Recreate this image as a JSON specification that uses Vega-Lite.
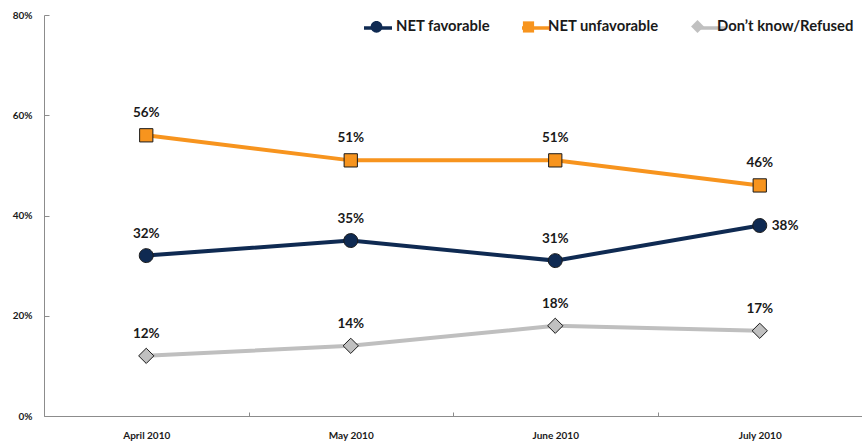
{
  "$schema": "https://vega.github.io/schema/vega-lite/v6.json",
  "width": 818,
  "height": 401,
  "autosize": {"type": "none"},
  "padding": {"left": 44, "top": 15, "right": 0, "bottom": 27},
  "background": "white",
  "config": {
    "font": "Lato",
    "view": {"stroke": null},
    "axis": {"grid": false, "domainColor": "#8c8c8c", "tickColor": "#8c8c8c", "labelFont": "Lato", "labelFontWeight": "bold", "labelFontSize": 10, "labelColor": "#1a1a1a", "title": null}
  },
  "data": {
    "values": [
      {"month": "April 2010", "series": "NET favorable", "value": 0.32},
      {"month": "May 2010", "series": "NET favorable", "value": 0.35},
      {"month": "June 2010", "series": "NET favorable", "value": 0.31},
      {"month": "July 2010", "series": "NET favorable", "value": 0.38},
      {"month": "April 2010", "series": "NET unfavorable", "value": 0.56},
      {"month": "May 2010", "series": "NET unfavorable", "value": 0.51},
      {"month": "June 2010", "series": "NET unfavorable", "value": 0.51},
      {"month": "July 2010", "series": "NET unfavorable", "value": 0.46},
      {"month": "April 2010", "series": "Don’t know/Refused", "value": 0.12},
      {"month": "May 2010", "series": "Don’t know/Refused", "value": 0.14},
      {"month": "June 2010", "series": "Don’t know/Refused", "value": 0.18},
      {"month": "July 2010", "series": "Don’t know/Refused", "value": 0.17}
    ]
  },
  "encoding": {
    "x": {
      "field": "month", "type": "nominal", "sort": ["April 2010", "May 2010", "June 2010", "July 2010"],
      "scale": {"type": "band", "paddingInner": 0, "paddingOuter": 0},
      "axis": {"labelAngle": 0, "tickBand": "extent", "tickSize": -4, "labelPadding": 18}
    },
    "y": {
      "field": "value", "type": "quantitative",
      "scale": {"domain": [0, 0.8], "nice": false, "zero": true},
      "axis": {"values": [0, 0.2, 0.4, 0.6, 0.8], "format": ".0%", "tickSize": -5, "labelPadding": 17}
    }
  },
  "layer": [
    {
      "mark": {"type": "line", "strokeWidth": 4},
      "encoding": {
        "stroke": {
          "field": "series", "type": "nominal",
          "sort": ["NET favorable", "NET unfavorable", "Don’t know/Refused"],
          "scale": {"range": ["#0f2a52", "#f7941e", "#bfbfbf"]},
          "legend": {"orient": "none", "legendX": 318, "legendY": -3, "direction": "horizontal", "title": null, "symbolType": "stroke", "symbolSize": 784, "symbolStrokeWidth": 3.5, "labelOpacity": 0, "labelFont": "Lato", "labelFontSize": 14.8, "labelFontWeight": "bold", "labelOffset": 5, "columnPadding": 22}
        }
      }
    },
    {
      "mark": {"type": "point", "filled": true, "size": 1100, "stroke": "#1a1a1a", "strokeWidth": 1, "opacity": 1},
      "encoding": {
        "fill": {
          "field": "series", "type": "nominal",
          "scale": {"domain": ["NET favorable", "NET unfavorable", "Don’t know/Refused"], "range": ["#0f2a52", "#f7941e", "#c0c0c0"]},
          "legend": {"orient": "none", "legendX": 318, "legendY": -3, "direction": "horizontal", "title": null, "symbolSize": 784, "symbolStrokeColor": "#1a1a1a", "symbolStrokeWidth": 1, "labelFont": "Lato", "labelFontSize": 14.8, "labelFontWeight": "bold", "labelColor": "#1a1a1a", "labelOffset": 5, "columnPadding": 22}
        },
        "shape": {
          "field": "series", "type": "nominal",
          "scale": {"domain": ["NET favorable", "NET unfavorable", "Don’t know/Refused"], "range": [
            "M-1,0M1,0M-0.42,0A0.42,0.42 0 1,1 0.42,0A0.42,0.42 0 1,1 -0.42,0Z",
            "M-1,0M1,0M-0.4,-0.4H0.4V0.4H-0.4Z",
            "M-1,0M1,0M0,-0.46L0.46,0L0,0.46L-0.46,0Z"
          ]},
          "legend": {"orient": "none", "legendX": 318, "legendY": -3, "direction": "horizontal", "title": null, "symbolSize": 784, "symbolStrokeColor": "#1a1a1a", "symbolStrokeWidth": 1, "labelFont": "Lato", "labelFontSize": 14.8, "labelFontWeight": "bold", "labelColor": "#1a1a1a", "labelOffset": 5, "columnPadding": 22}
        }
      }
    },
    {
      "transform": [{"filter": "!(datum.series === 'NET favorable' && datum.month === 'July 2010')"}],
      "mark": {"type": "text", "dy": -22, "font": "Lato", "fontSize": 13.5, "fontWeight": "bold", "color": "#1a1a1a"},
      "encoding": {"text": {"field": "value", "type": "quantitative", "format": ".0%"}}
    },
    {
      "transform": [{"filter": "datum.series === 'NET favorable' && datum.month === 'July 2010'"}],
      "mark": {"type": "text", "dx": 12, "align": "left", "font": "Lato", "fontSize": 13.5, "fontWeight": "bold", "color": "#1a1a1a"},
      "encoding": {"text": {"field": "value", "type": "quantitative", "format": ".0%"}}
    }
  ]
}
